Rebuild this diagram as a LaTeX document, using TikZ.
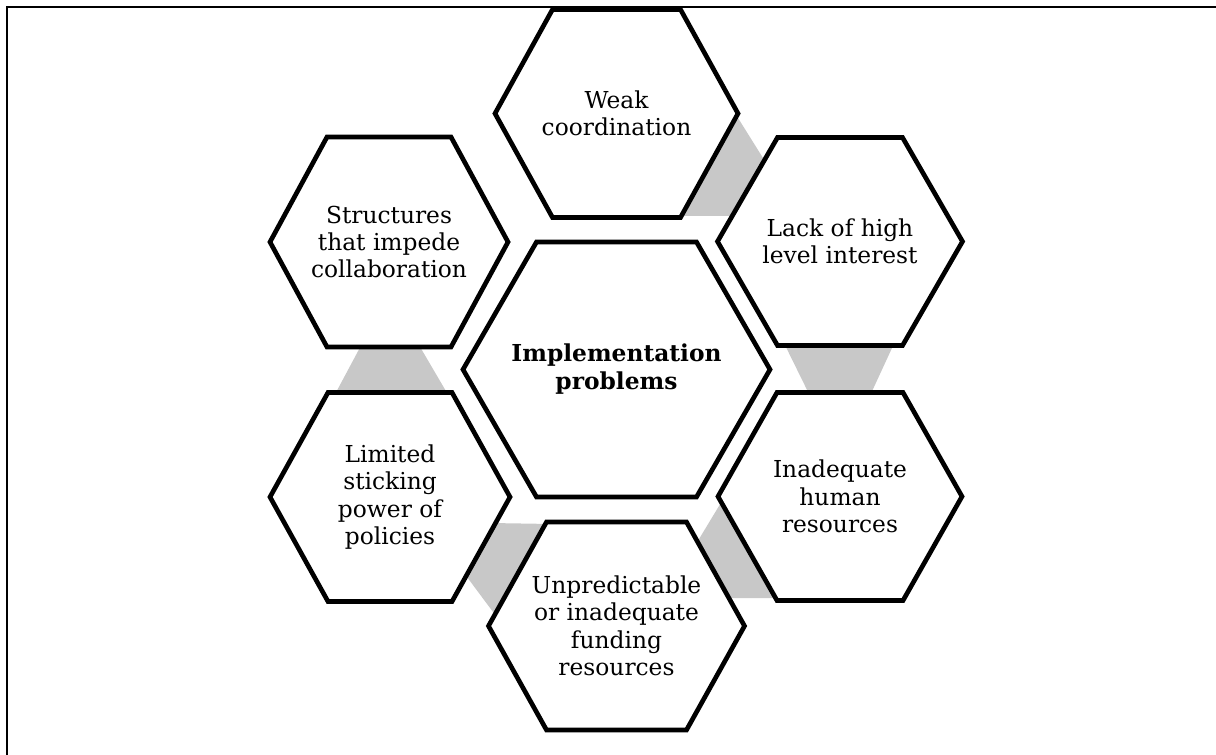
\documentclass[tikz,border=0pt]{standalone}
\usepackage{fontspec}
\setmainfont{DejaVu Serif}
\definecolor{conngray}{RGB}{200,200,200}
\tikzset{
  hexline/.style={draw=black, fill=white, line width=3.5pt, line join=miter},
  conn/.style={fill=conngray, draw=none},
  lbl/.style={align=center, font=\fontsize{17.5}{20.6}\selectfont, inner sep=0pt},
  frameline/.style={line width=1.5pt}
}
\newcommand{\hexshape}[5]{\path[hexline,shift={(#1,#2)}] (-#3,0) -- (-#5,-#4) -- (#5,-#4) -- (#3,0) -- (#5,#4) -- (-#5,#4) -- cycle;}
\begin{document}
\begin{tikzpicture}[x=0.75pt,y=-0.75pt]
\useasboundingbox (0,0) rectangle (1216,755);
\draw[frameline] (7,755) -- (7,7) -- (1216,7);
% gray connectors
\fill[conn] (733,110) -- (768,166) -- (740,216) -- (676,216) -- cycle;
\fill[conn] (780,335) -- (898,335) -- (868,400) -- (812,400) -- cycle;
\fill[conn] (725,496) -- (690,554) -- (715,598) -- (781,598) -- cycle;
\fill[conn] (490,523) -- (552,524) -- (499,620) -- (464,573) -- cycle;
\fill[conn] (364,340) -- (416,340) -- (450,398) -- (333,398) -- cycle;
% hexagons
\hexshape{616.5}{113.5}{121.5}{104}{64}
\hexshape{840}{241.5}{122.5}{104}{62.5}
\hexshape{840}{496.5}{122}{104}{63}
\hexshape{616.5}{626}{128}{104}{70}
\hexshape{390}{497}{120}{104.5}{62}
\hexshape{389}{242}{119}{105}{62}
\hexshape{616.5}{369.5}{153.5}{127.5}{80}
% labels
\node[lbl] (weak) at (616.5,113.5) {Weak\\coordination};
\node[lbl] (lack) at (840,241.5) {Lack of high\\level interest};
\node[lbl] (inad) at (840,496.5) {Inadequate\\human\\resources};
\node[lbl] (unpred) at (616.5,626) {Unpredictable\\or inadequate\\funding\\resources};
\node[lbl] (limit) at (390,497) {Limited\\sticking\\power of\\policies};
\node[lbl] (struct) at (389,242) {Structures\\that impede\\collaboration};
\node[lbl,font=\fontsize{17.5}{21}\selectfont\bfseries] (impl) at (616.5,369.5) {Implementation\\problems};
\end{tikzpicture}
\end{document}
